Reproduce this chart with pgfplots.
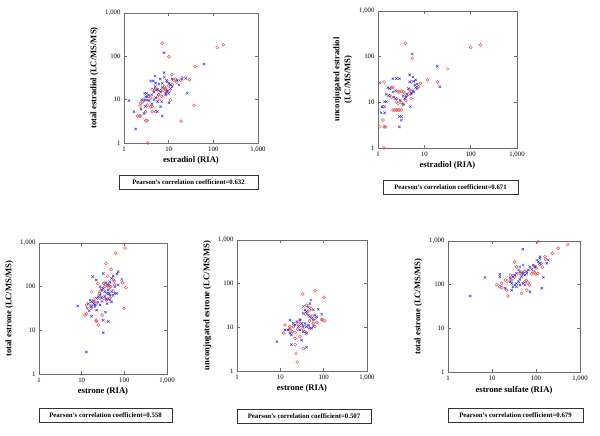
\documentclass[border=0pt]{standalone}
\usepackage{fontspec}
\setmainfont{Liberation Serif}
\usepackage{pgfplots}
\pgfplotsset{compat=1.18}
\definecolor{rc}{RGB}{235,85,85}
\definecolor{bc}{RGB}{60,60,225}
\definecolor{ax}{RGB}{110,110,110}
\pgfplotsset{
  every axis/.append style={
    scale only axis, anchor=south west,
    xmin=1, xmax=1000, ymin=1, ymax=1000,
    xtick={1,10,100,1000}, ytick={1,10,100,1000},
    xticklabels={1,10,100,{1,000}}, yticklabels={1,10,100,{1,000}},
    xminorticks=false, yminorticks=false,
    tick align=inside, major tick length=3pt,
    axis line style={ax}, every tick/.style={ax},
    tick label style={font=\fontsize{6.8}{8}\selectfont},
    label style={font=\fontsize{8.6}{10}\selectfont\bfseries},
    xlabel style={yshift=2pt},
  },
  rser/.style={only marks, mark=o, mark size=1.5pt, mark options={draw=rc, line width=0.5pt}},
  bser/.style={only marks, mark=x, mark size=1.7pt, mark options={draw=bc, line width=0.5pt}},
}
\newcommand{\corr}[4]{\node[draw=black!80, line width=0.6pt, minimum width=#3pt, minimum height=14pt, inner sep=0pt, font=\fontsize{6.8}{8}\selectfont\bfseries] at (#1pt,#2pt) {Pearson’s correlation coefficient=#4};}
\begin{document}
\begin{tikzpicture}
\useasboundingbox (0,0) rectangle (600pt,436pt);
% Panel 1
\begin{axis}[xmode=log, ymode=log, at={(124pt,293pt)}, width=134pt, height=130pt,
  xlabel={estradiol (RIA)}, ylabel={total estradiol (LC/MS/MS)}]
\addplot[rser] coordinates {(7.2,200)(10.2,98)(123,160)(167,185)(39,58)(29,29)(20,32)(11.7,38)(37,7.3)(19,3.2)(3.4,1.0)
(4.3,17)(4.8,17)(5.2,17.5)(5.6,17)(6.6,16)(7.5,16.5)(8.6,17)(10.5,16)(13,28)(14,30)
(2.8,9.8)(2.36,8.2)(2.28,7.1)(2.0,4.2)(2.2,4.2)(2.36,4.2)(3.06,5.3)(3.06,3.3)(3.3,3.3)(4.3,5.3)(5.1,5.3)(3.95,6.9)(6.1,9.8)(5.6,11.7)(7.9,20)(8.6,18)(11,9.8)(18.6,28)(4.3,6.9)(3.3,7.5)(2.6,9.0)(9,15)(12,22)(6,13)(4,11)(7,12)(10,21)(15,25)(3.6,12)};
\addplot[bser] coordinates {(7.9,121)(62,66)(1.29,9.5)(1.82,2.1)(1.67,5.3)(4.95,35)(3.95,27)(4.5,27)(5.1,24)(6.1,23)(7.2,24)(7.9,42)(9.3,26)(10.2,24)(11,22)(15.6,28)(17,22)(24,31)(26,14)(2.9,14)(3.06,11.7)(3.3,11.7)(3.6,12.8)(2.9,9.8)(3.3,9.8)(3.6,9.5)(5.6,17)(6.6,15)(7.2,19)(8.6,13)(4.7,10)(5.1,11)(5.6,9)(6.6,6.9)(7.2,4.2)(5.6,5.3)(10.2,8.5)(4.7,15)(8.6,14)(9.3,16)(11,18)(12,20)(2.8,4.8)(2.4,6)(4.2,8)(6.5,30)(8,33)(9,28)(12,30)(20,30)(3.2,14)(2.5,10)(5,20)(10,14)(7,9)(3,7)(4.2,13)};
\end{axis}
% Panel 2
\begin{axis}[xmode=log, ymode=log, at={(378pt,288pt)}, width=139pt, height=137pt,
  xlabel={estradiol (RIA)}, ylabel={unconjugated estradiol\\[1pt](LC/MS/MS)},
  ylabel style={align=center, font=\fontsize{8.6}{10}\selectfont\bfseries}]
\addplot[rser] coordinates {(3.9,195)(5.5,92)(100,160)(162,181)(32,54)(11.6,31)(19,28)(8.2,26)(5.2,28)(1.35,28)(1.94,21)(2.1,21)(2.7,17)(2.9,17)(3.2,17.5)(3.5,17)(3.8,16)
(1.78,14)(1.94,13)(2.5,12)(2.1,6.8)(2.3,6.8)(2.5,6.8)(2.7,6.8)(2.9,6.8)(3.2,6.8)(2.5,10)(2.7,9.5)(3.2,10)(3.5,9)
(1.28,4.1)(1.09,2.9)(1.35,2.9)(1.44,2.9)(1.35,1.0)(1.28,8)(4.2,14)(4.5,15)(4.8,19)(5.2,17)(5.2,12)(7.5,22)(4,11)};
\addplot[bser] coordinates {(5.5,114)(19,62)(21.5,22)(1.09,27)(2.1,33)(2.5,33)(2.9,33)(4.8,40)(5.7,36)(4.8,28)(5.9,29)(6.5,31)(7,25)(1.64,21)(1.78,20)(2.1,17)(2.4,18)(1.5,15)(1.7,14)(2.2,13)(2.4,12)(1.39,10.3)(1.51,10.3)(1.22,8)(1.39,8)(1.18,5.9)(1.39,5.9)(2.9,4.9)(3.2,4.9)(3.2,4.1)(2.9,2.9)(3.5,14)(3.8,12)(4.2,15)(5.0,8)(5.2,15)(5.7,18)(6.5,21)(6.2,24)(5.2,16)(3,11)(4,13)(4.5,20)(6,17)(7,20)(3.5,9)};
\end{axis}
% Panel 3
\begin{axis}[xmode=log, ymode=log, at={(39pt,62pt)}, width=128pt, height=131pt,
  xlabel={estrone (RIA)}, ylabel={total estrone (LC/MS/MS)}]
\addplot[rser] coordinates {(104,760)(63,580)(37,340)(49,250)(41,175)(55,142)(58,135)(91,123)(109,95)(98,32)(24,119)(27,79)(33,120)(36,112)(40,105)(44,98)(33,54)(40,52)(45,54)(27,54)(19,49)(20,46)(16.5,36)(16.5,32)(13,38)(17,76)(22,17)(22,16)(24.6,13.3)(13,24)(12,22.5)(30,22.5)(38,50)(50,60)(55,80)(45,120)(30,90)(26,70)(22,40)(19,45)(60,110)(48,100)(35,100)(42,70)};
\addplot[bser] coordinates {(8.1,36)(13,3.2)(32,8.8)(32,17)(42,16)(17,21)(18,170)(22,142)(32,200)(72,220)(67,195)(87,147)(27,100)(29.5,84)(32,91)(35,77)(39,70)(42,84)(46,64)(50,77)(55,64)(60,70)(66,70)(15.8,49)(17,45)(19,41)(20.5,38)(22.5,54)(24.5,59)(14.3,41)(13.6,32)(20.5,35)(22.5,29)(27,38)(39,41)(46,49)(50,45)(27,64)(29.5,57)(60,100)(72,109)(15,28)(17,35)(37,123)(42,109)(46,130)(50,155)(55,175)(35,60)(38,52)(44,70)(30,46)(36,26)(24,44)};
\end{axis}
% Panel 4
\begin{axis}[xmode=log, ymode=log, at={(237pt,65pt)}, width=130pt, height=131pt,
  xlabel={estrone (RIA)}, ylabel={unconjugated estrone (LC/MS/MS)}]
\addplot[rser] coordinates {(63,69)(33,58)(102,49)(40,32)(51,27)(48,25)(42,22)(90,15)(95,14.8)(107,14)(58,12.3)(63,10.4)(12.8,11.3)(12,7.3)(16.6,10.4)(16.6,9.5)(16.6,8.7)(19,8)(22,7.6)(22,5.6)(22,4.0)(28.5,6.1)(24.5,1.6)(23,2.5)(34,3.3)(30,11)(33,9.5)(36,8)(40,7.5)(28.5,14.7)(26,12.3)(55,18)(63,16)(70,13)(45,10)(38,20)(47,14)(20,10.4)(25,9)};
\addplot[bser] coordinates {(8.3,4.7)(18,4.0)(40,3.5)(31,5.1)(51,42)(58,25)(75,26)(90,20)(34,21)(37,25)(40,23)(44.5,19)(48,17.5)(53,16)(58,14.7)(63,19)(69,17.5)(28.5,14.7)(31,12.3)(34,10.7)(37,12.3)(40,10.4)(44.5,11.3)(48,9.5)(16.7,14.7)(20,12.3)(22,11.3)(24,13.5)(26,10.4)(15,8.7)(16.7,7.3)(18,6.7)(12.8,8.7)(28.5,8.7)(34,8)(40,7.3)(53,9.5)(58,10.7)(34,30)(44.5,29)(48,35)};
\end{axis}
% Panel 5
\begin{axis}[xmode=log, ymode=log, at={(448pt,64pt)}, width=132pt, height=131pt,
  xlabel={estrone sulfate (RIA)}, ylabel={total estrone (LC/MS/MS)}]
\addplot[rser] coordinates {(113,960)(525,835)(320,680)(236,520)(160,437)(165,380)(123,290)(130,300)(95,257)(100,240)(87,200)(92,190)(80,175)(98,175)(33,330)(36,257)(26,166)(30,160)(33,150)(20,128)(22,120)(16.6,107)(12.8,100)(15,90)(16.6,85)(21.5,75)(23,55)(47,63)(44,180)(48,175)(56,117)(60,125)(65,110)(71,98)(62,75)(28,128)(50,190)(55,200)(110,180)(140,250)};
\addplot[bser] coordinates {(3.2,55)(6.9,147)(50,645)(15,173)(15,152)(20,83)(28,75)(73,69)(135,83)(147,147)(175,310)(190,365)(123,400)(123,437)(104,365)(113,337)(120,310)(87,282)(95,257)(73,257)(80,224)(67,218)(62,182)(36,182)(40,218)(43,200)(51,182)(56,166)(62,200)(47,152)(43,132)(40,117)(36,107)(30,152)(33,166)(26,117)(28,107)(33,98)(36,90)(43,98)(51,107)(56,98)(30,90)(26,140)(43,257)(51,282)};
\end{axis}
\corr{188.5}{254}{139}{0.632}
\corr{450.5}{248.5}{135}{0.671}
\corr{105.5}{21}{133}{0.558}
\corr{304}{19.5}{134}{0.507}
\corr{515.5}{21}{135}{0.679}
\end{tikzpicture}
\end{document}
